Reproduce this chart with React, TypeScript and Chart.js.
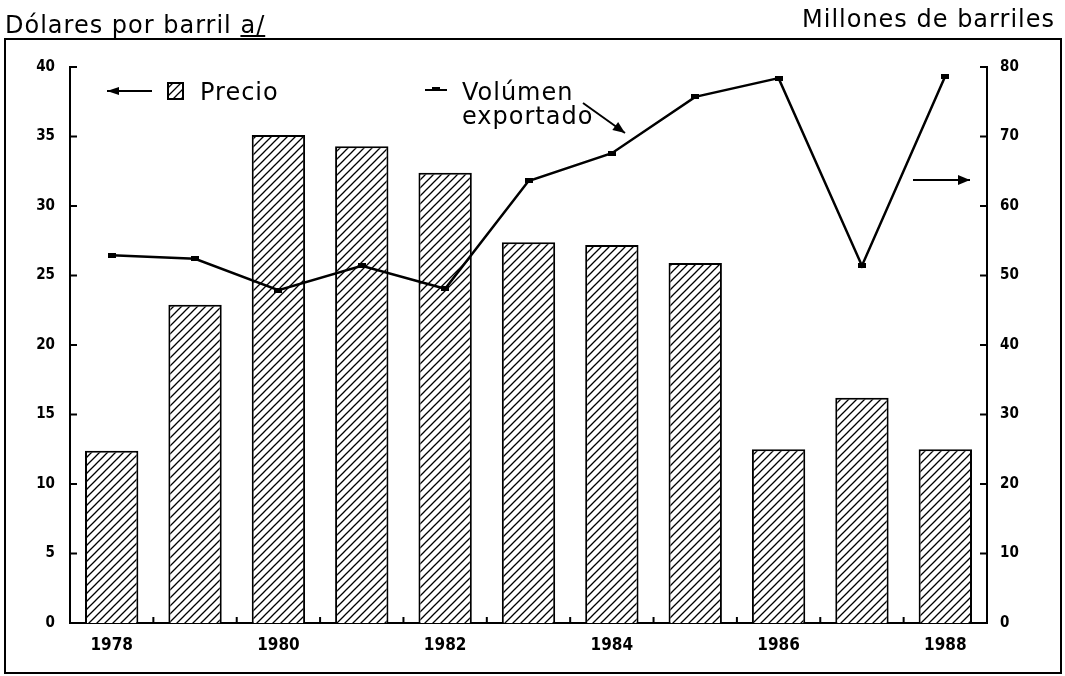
import React, { useEffect, useRef } from "react";
import { Chart, registerables } from "chart.js";

Chart.register(...registerables);

const years = ["1978", "1979", "1980", "1981", "1982", "1983", "1984", "1985", "1986", "1987", "1988"];
const labeledYears = ["1978", "1980", "1982", "1984", "1986", "1988"];
const precio = [12.4, 22.9, 35.1, 34.3, 32.4, 27.4, 27.2, 25.9, 12.5, 16.2, 12.5];
const volumen = [52.9, 52.4, 47.9, 51.4, 48.1, 63.6, 67.6, 75.7, 78.4, 51.4, 78.7];
const leftMax = 40;
const leftStep = 5;
const rightMax = 80;
const rightStep = 10;

const TEXT_FONT = "'DejaVu Sans', sans-serif";
const TICK_FONT = "'DejaVu Sans Condensed', 'DejaVu Sans', sans-serif";

function makeHatch(): CanvasPattern | string {
  const c = document.createElement("canvas");
  c.width = 8;
  c.height = 8;
  const g = c.getContext("2d");
  if (!g) return "#fff";
  g.fillStyle = "#fff";
  g.fillRect(0, 0, 8, 8);
  g.strokeStyle = "#000";
  g.lineWidth = 1.3;
  g.beginPath();
  g.moveTo(0, 8);
  g.lineTo(8, 0);
  g.moveTo(-2, 2);
  g.lineTo(2, -2);
  g.moveTo(6, 10);
  g.lineTo(10, 6);
  g.stroke();
  const p = g.createPattern(c, "repeat");
  return p || "#fff";
}

function makeMarker(): HTMLCanvasElement {
  const c = document.createElement("canvas");
  c.width = 8;
  c.height = 5;
  const g = c.getContext("2d");
  if (g) {
    g.fillStyle = "#000";
    g.fillRect(0, 0, 8, 5);
  }
  return c;
}

function arrow(ctx: CanvasRenderingContext2D, x1: number, y1: number, x2: number, y2: number, head = 12, half = 5) {
  ctx.beginPath();
  ctx.moveTo(x1, y1);
  ctx.lineTo(x2, y2);
  ctx.stroke();
  const a = Math.atan2(y2 - y1, x2 - x1);
  const bx = x2 - head * Math.cos(a);
  const by = y2 - head * Math.sin(a);
  ctx.beginPath();
  ctx.moveTo(x2, y2);
  ctx.lineTo(bx + half * Math.sin(a), by - half * Math.cos(a));
  ctx.lineTo(bx - half * Math.sin(a), by + half * Math.cos(a));
  ctx.closePath();
  ctx.fill();
}

export default function App() {
  const ref = useRef<HTMLCanvasElement | null>(null);

  useEffect(() => {
    const canvas = ref.current;
    if (!canvas) return;
    const hatch = makeHatch();
    const marker = makeMarker();

    const decor = {
      id: "decor",
      afterDraw(chart: any) {
        const ctx: CanvasRenderingContext2D = chart.ctx;
        const xs = chart.scales.x;
        const yl = chart.scales.y;
        const yr = chart.scales.y1;
        ctx.save();
        ctx.strokeStyle = "#000";
        ctx.fillStyle = "#000";
        ctx.lineWidth = 2;
        ctx.beginPath();
        for (let v = 0; v <= leftMax; v += leftStep) {
          const py = yl.getPixelForValue(v);
          ctx.moveTo(yl.right, py);
          ctx.lineTo(yl.right + 7, py);
        }
        for (let v = 0; v <= rightMax; v += rightStep) {
          const py = yr.getPixelForValue(v);
          ctx.moveTo(yr.left - 7, py);
          ctx.lineTo(yr.left, py);
        }
        for (let i = 1; i < years.length; i++) {
          const px = (xs.getPixelForValue(i - 1) + xs.getPixelForValue(i)) / 2;
          ctx.moveTo(px, xs.top);
          ctx.lineTo(px, xs.top - 6);
        }
        ctx.stroke();

        ctx.lineWidth = 2;
        ctx.strokeRect(5, 39, 1056, 634);

        ctx.lineWidth = 2;
        arrow(ctx, 152, 91, 107, 91, 12, 4);
        ctx.fillStyle = hatch as any;
        ctx.fillRect(168, 83, 15, 16);
        ctx.fillStyle = "#000";
        ctx.lineWidth = 2;
        ctx.strokeRect(168, 83, 15, 16);

        ctx.lineWidth = 2;
        ctx.beginPath();
        ctx.moveTo(425, 90);
        ctx.lineTo(432, 90);
        ctx.moveTo(440, 90);
        ctx.lineTo(447, 90);
        ctx.stroke();
        ctx.fillRect(432, 87, 8, 4);

        ctx.lineWidth = 2;
        arrow(ctx, 583, 103, 625, 133, 12, 5);
        arrow(ctx, 913, 180, 970, 180, 12, 5);
        ctx.restore();
      },
    };

    const chart = new Chart(canvas, {
      type: "bar",
      data: {
        labels: years,
        datasets: [
          {
            type: "line",
            label: "Volúmen exportado",
            data: volumen,
            yAxisID: "y1",
            borderColor: "#000",
            borderWidth: 2.5,
            tension: 0,
            pointStyle: marker as any,
            pointRadius: 4,
            order: 0,
          } as any,
          {
            type: "bar",
            label: "Precio",
            data: precio,
            yAxisID: "y",
            backgroundColor: hatch as any,
            borderColor: "#000",
            borderWidth: 2,
            barPercentage: 0.64,
            categoryPercentage: 1,
            order: 1,
          } as any,
        ],
      },
      options: {
        responsive: false,
        animation: false,
        devicePixelRatio: 1,
        layout: { padding: { top: 67, left: 0, right: 0, bottom: 0 } },
        plugins: {
          legend: { display: false },
          tooltip: { enabled: false },
          title: { display: false },
        },
        scales: {
          x: {
            type: "category",
            offset: true,
            grid: { display: false, drawTicks: false },
            border: { display: true, color: "#000", width: 2 },
            ticks: {
              autoSkip: false,
              maxRotation: 0,
              padding: 12,
              color: "#000",
              font: { family: TICK_FONT, size: 17, weight: "bold" },
              callback: (_v: any, i: number) => (labeledYears.includes(years[i]) ? years[i] : ""),
            },
            afterFit: (s: any) => {
              s.height = 53;
            },
          },
          y: {
            position: "left",
            min: 0,
            max: leftMax,
            grid: { display: false, drawTicks: false },
            border: { display: true, color: "#000", width: 2 },
            ticks: {
              stepSize: leftStep,
              padding: 15,
              color: "#000",
              font: { family: TICK_FONT, size: 15, weight: "bold" },
            },
            afterFit: (s: any) => {
              s.width = 70;
            },
          },
          y1: {
            position: "right",
            min: 0,
            max: rightMax,
            grid: { display: false, drawTicks: false },
            border: { display: true, color: "#000", width: 2 },
            ticks: {
              stepSize: rightStep,
              padding: 13,
              color: "#000",
              font: { family: TICK_FONT, size: 15, weight: "bold" },
            },
            afterFit: (s: any) => {
              s.width = 78;
            },
          },
        },
      } as any,
      plugins: [decor],
    });

    return () => {
      chart.destroy();
    };
  }, []);

  const txt: React.CSSProperties = {
    position: "absolute",
    fontFamily: TEXT_FONT,
    fontSize: 24,
    lineHeight: "24px",
    letterSpacing: 1,
    color: "#000",
    whiteSpace: "nowrap",
    margin: 0,
  };

  return (
    <div style={{ position: "absolute", left: 0, top: 0, width: 1065, height: 676, background: "#fff" }}>
      <canvas ref={ref} width={1065} height={676} style={{ display: "block", width: 1065, height: 676 }} />
      <div style={{ ...txt, left: 5, top: 13 }}>
        Dólares por barril{" "}
        <span style={{ textDecoration: "underline", textDecorationThickness: 2, textUnderlineOffset: 2 }}>a/</span>
      </div>
      <div style={{ ...txt, right: 10, top: 7 }}>Millones de barriles</div>
      <div style={{ ...txt, left: 200, top: 80 }}>Precio</div>
      <div style={{ ...txt, left: 462, top: 80 }}>Volúmen</div>
      <div style={{ ...txt, left: 462, top: 104 }}>exportado</div>
    </div>
  );
}
